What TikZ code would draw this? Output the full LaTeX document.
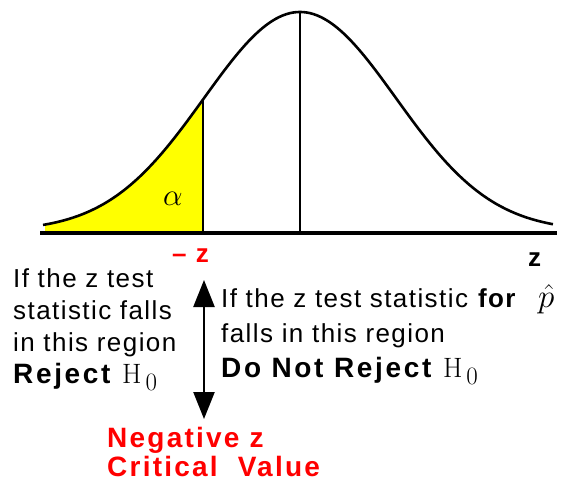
\documentclass[tikz,border=0pt]{standalone}
\usepackage{fix-cm}
\usepackage[no-math]{fontspec}
\setmainfont{Liberation Sans}[LetterSpace=5.5]
\newfontfamily\wideb{Liberation Sans}[LetterSpace=9.5]
\newfontfamily\redfam{Liberation Sans}[LetterSpace=8]
\usetikzlibrary{arrows.meta}
\definecolor{zred}{RGB}{255,0,0}
\definecolor{zyellow}{RGB}{255,255,0}
\newcommand{\hzero}{{\fontsize{28}{30}\selectfont$\mathrm{H}$}\kern4pt\raisebox{-7pt}{\fontsize{25}{28}\selectfont$\mathrm{0}$}}
\newcommand{\bigbf}[1]{{\wideb\fontsize{28}{30}\selectfont\bfseries #1}}
\begin{document}
\begin{tikzpicture}[x=1pt,y=-1pt,
  lbl/.style={anchor=base west,inner sep=0pt,font=\fontsize{26}{30}\selectfont},
  redlbl/.style={lbl,text=zred,font=\redfam\fontsize{28}{32}\selectfont\bfseries},
  curveline/.style={line width=2.6pt,line join=round},
  thin/.style={line width=2pt}]
\useasboundingbox (0,0) rectangle (563,483);
% yellow tail
\fill[zyellow] (45,231) -- plot[domain=45:203,samples=60] (\x,{231-219*exp(-0.5*((\x-300)/96)^2)}) -- (203,231) -- cycle;
% verticals
\draw[thin] (203,{231-219*exp(-0.5*((203-300)/96)^2)}) coordinate (zc) -- (203,232) coordinate (zb);
\draw[thin] (300,12) coordinate (pk) -- (300,232) coordinate (pb);
% curve
\draw[curveline] plot[domain=43:553,samples=150] (\x,{231-219*exp(-0.5*((\x-300)/96)^2)});
% axis
\coordinate (axl) at (40,233);
\coordinate (axr) at (557,233);
\draw[line width=4.5pt] (axl) -- (axr);
% alpha
\node[inner sep=0pt,font=\fontsize{31}{34}\selectfont] (alpha) at (173,199) {$\alpha$};
% labels under axis
\node[lbl,text=zred,font=\redfam\fontsize{26}{30}\selectfont\bfseries] (mz) at (172,262) {–\ z};
\node[lbl,font=\fontsize{26}{30}\selectfont\bfseries] (z) at (528,266) {z};
% left block
\node[lbl] (l1) at (13,287) {If the z test};
\node[lbl] (l2) at (13,319) {statistic falls};
\node[lbl] (l3) at (13,351) {in this region};
\node[lbl] (l4) at (13,383) {\bigbf{Reject}\kern3pt{} \hzero};
% right block
\node[lbl] (r1) at (221,307) {If the z test statistic \textbf{for}};
\node[inner sep=0pt,anchor=base west,font=\fontsize{33}{36}\selectfont] (phat) at (538,307) {$\hat{p}$};
\node[lbl] (r2) at (221,342) {falls in this region};
\node[lbl] (r3) at (221,377) {\bigbf{Do Not Reject}\kern3pt{} \hzero};
% arrow
\coordinate (at) at (204,280);
\coordinate (ab) at (204,419);
\draw[line width=2.5pt,{Triangle[width=21pt,length=27pt]}-{Triangle[width=21pt,length=27pt]}] (at) -- (ab);
% bottom red
\node[redlbl] (n1) at (107,447) {Negative z};
\node[redlbl] (n2) at (107,476) {Critical\ \ Value};
\end{tikzpicture}
\end{document}
